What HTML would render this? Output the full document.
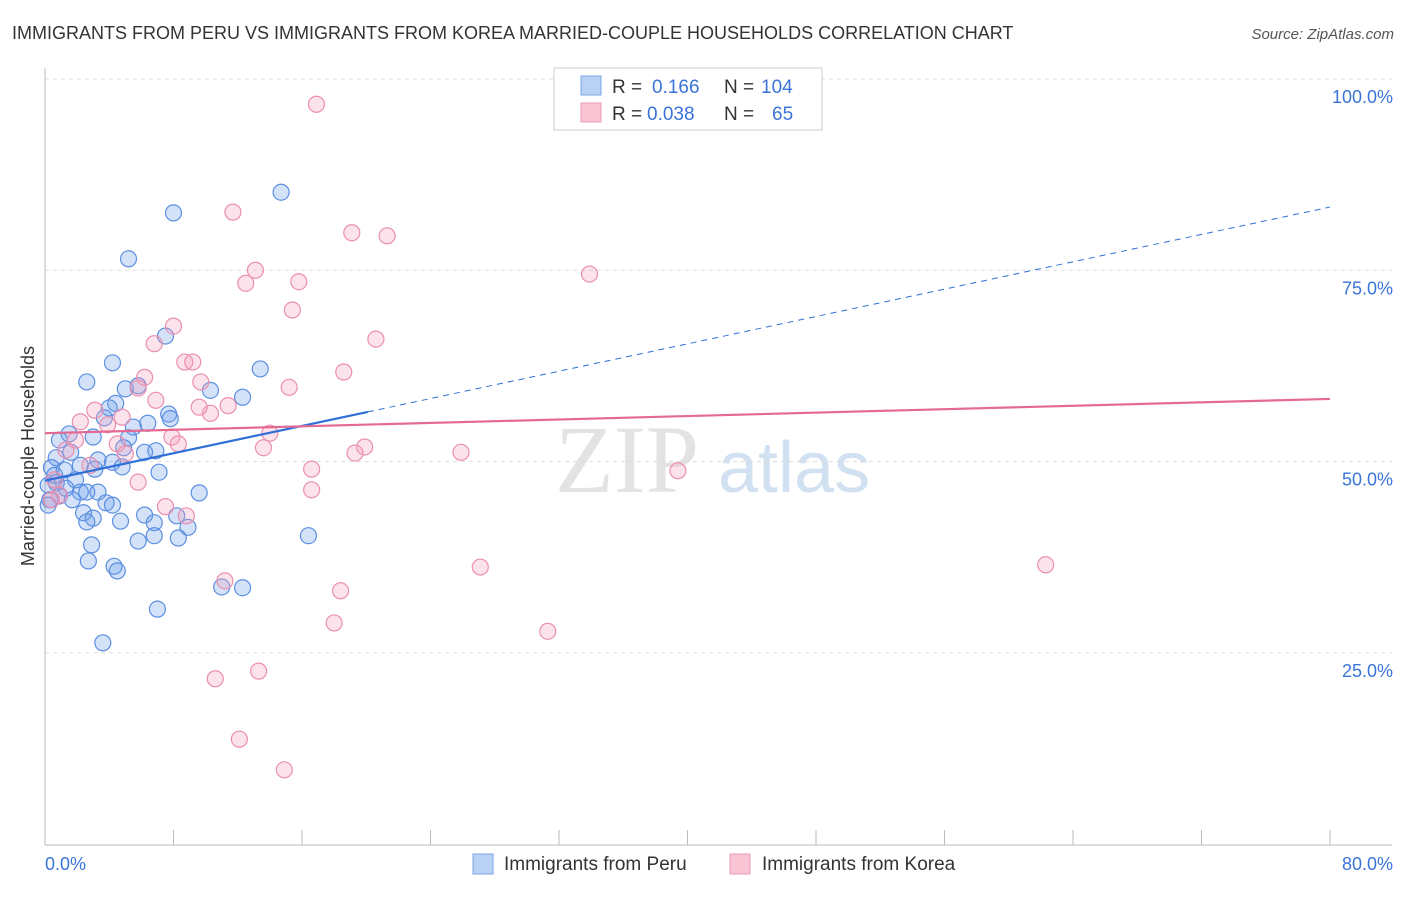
<!DOCTYPE html>
<html><head><meta charset="utf-8"><style>
body{margin:0;background:#fff;font-family:"Liberation Sans",sans-serif;}
</style></head><body>
<svg id="chart" width="1406" height="892" xmlns="http://www.w3.org/2000/svg" font-family="Liberation Sans, sans-serif">
<text x="12" y="39" font-size="18" fill="#333">IMMIGRANTS FROM PERU VS IMMIGRANTS FROM KOREA MARRIED-COUPLE HOUSEHOLDS CORRELATION CHART</text>
<text x="1394" y="39" font-size="15" fill="#555" font-style="italic" text-anchor="end">Source: ZipAtlas.com</text>
<g>
<text x="555" y="492" font-size="96" fill="#ddd" font-family="Liberation Serif, serif" opacity="0.8">ZIP</text>
<text x="718" y="492" font-size="72" fill="#c8daf0" opacity="0.8">atlas</text>
</g>
<g id="grid"></g>
<g id="axes"></g>
<g id="points"></g>
<g id="trends"></g>
<text transform="translate(34,456) rotate(-90)" font-size="18" fill="#333" text-anchor="middle">Married-couple Households</text>
<g>
<rect x="554" y="68" width="268" height="62" fill="#fff" stroke="#ccc"/>
<rect x="581" y="76" width="20" height="19" fill="#b9d1f5" stroke="#7aa5e6"/>
<rect x="581" y="103" width="20" height="19" fill="#f9c5d5" stroke="#ea9ab4"/>
<text x="612" y="93" font-size="19" fill="#333">R = </text><text x="652" y="93" font-size="19" fill="#3a74d8">0.166</text>
<text x="724" y="93" font-size="19" fill="#333">N = </text><text x="761" y="93" font-size="19" fill="#3a74d8">104</text>
<text x="612" y="120" font-size="19" fill="#333">R = </text><text x="647" y="120" font-size="19" fill="#3a74d8">0.038</text>
<text x="724" y="120" font-size="19" fill="#333">N = </text><text x="772" y="120" font-size="19" fill="#3a74d8">65</text>
</g>
<g>
<rect x="473" y="854" width="20" height="20" fill="#b9d1f5" stroke="#7aa5e6"/>
<text x="504" y="870" font-size="19" fill="#333">Immigrants from Peru</text>
<rect x="730" y="854" width="20" height="20" fill="#f9c5d5" stroke="#ea9ab4"/>
<text x="762" y="870" font-size="19" fill="#333">Immigrants from Korea</text>
</g>
</svg>
<script>
const yTicks=[25,50,75,100];
const yTickLabels=["25.0%","50.0%","75.0%","100.0%"];
const xTickLabels=["0.0%","80.0%"];
const peruX=[14.7,8.0,5.2,7.5,4.2,13.4,2.6,10.3,12.3,5.0,5.8,4.4,7.7,7.8,6.4,4.0,3.7,5.5,5.2,1.5,3.0,0.9,4.9,6.2,6.9,1.6,0.7,3.3,4.2,2.2,0.4,1.2,4.8,7.1,3.1,1.9,0.7,0.2,1.3,2.2,2.6,3.3,9.6,0.9,0.3,3.8,4.2,2.4,3.0,6.2,8.2,4.7,6.8,2.6,8.9,16.4,8.3,6.8,5.8,2.9,2.7,4.3,4.5,11.0,12.3,7.0,3.6,0.2,0.6,1.7];
const peruY=[85.2,82.5,76.5,66.4,62.9,62.1,60.4,59.3,58.4,59.5,59.9,57.6,56.2,55.6,55.0,57.0,55.7,54.5,53.1,53.6,53.2,52.8,51.8,51.2,51.4,51.2,50.5,50.2,49.9,49.5,49.2,48.9,49.3,48.6,49.0,47.6,47.2,46.9,46.5,46.0,46.0,46.0,45.9,45.5,45.0,44.6,44.3,43.3,42.6,43.0,42.9,42.2,42.0,42.1,41.4,40.3,40.0,40.3,39.6,39.1,37.0,36.3,35.7,33.6,33.5,30.7,26.3,44.3,48.2,45.0];
const koreaX=[16.9,11.7,19.1,21.3,13.1,33.9,12.5,15.8,15.4,8.0,20.6,6.8,8.7,9.2,18.6,6.2,9.7,15.2,5.8,6.9,11.4,10.3,9.6,4.8,3.1,2.2,3.9,14.0,7.9,4.5,8.3,13.6,19.9,19.3,25.9,5.0,1.3,2.8,16.6,39.4,5.8,16.6,0.6,0.9,7.5,8.8,27.1,62.3,11.2,18.4,18.0,31.3,13.3,10.6,12.1,14.9,0.4,1.9];
const koreaY=[96.7,82.6,79.9,79.5,75.0,74.5,73.3,73.5,69.8,67.7,66.0,65.4,63.0,63.0,61.7,61.0,60.4,59.7,59.6,58.0,57.3,56.3,57.1,55.8,56.7,55.2,54.8,53.7,53.2,52.3,52.3,51.8,51.9,51.1,51.2,51.0,51.5,49.5,49.0,48.8,47.3,46.3,47.6,45.6,44.1,42.9,36.2,36.5,34.4,33.1,28.9,27.8,22.6,21.6,13.7,9.7,45.0,52.8];
const peruTrend=[47.5,0.447];
const koreaTrend=[53.7,0.056];
const NS="http://www.w3.org/2000/svg";
const X=v=>45+v*1285/80;
const Y=v=>844-v*7.65;
function mk(t,a,p){const e=document.createElementNS(NS,t);for(const k in a)e.setAttribute(k,a[k]);p.appendChild(e);return e;}
const grid=document.getElementById('grid'),axes=document.getElementById('axes');
yTicks.forEach((t,i)=>{
 const l=mk('line',{x1:45,x2:1392,y1:Y(t),y2:Y(t),stroke:'#ddd','stroke-dasharray':'4,4'},grid);
 
 
 const tx=mk('text',{x:1393,y:Y(t)+24,'font-size':18,fill:'#3a74d8','text-anchor':'end'},axes);
 tx.textContent=yTickLabels[i];
 
 
});
mk('line',{x1:45,x2:45,y1:68,y2:845,stroke:'#bbb'},axes);
mk('line',{x1:45,x2:1392,y1:845,y2:845,stroke:'#bbb'},axes);
for(let i=0;i<=10;i++){const x=X(i*8);mk('line',{x1:x,x2:x,y1:830,y2:845,stroke:'#bbb'},axes);}
const xl=mk('text',{x:45,y:870,'font-size':18,fill:'#3a74d8'},axes);xl.textContent=xTickLabels[0];


const xr=mk('text',{x:1393,y:870,'font-size':18,fill:'#3a74d8','text-anchor':'end'},axes);xr.textContent=xTickLabels[1];


const pts=document.getElementById('points');
peruX.forEach((x,i)=>{const c=mk('circle',{cx:X(x),cy:Y(peruY[i]),r:8,fill:'rgba(110,160,235,0.3)',stroke:'#5b8fe0','stroke-width':1.2},pts);
 
 });
koreaX.forEach((x,i)=>{const c=mk('circle',{cx:X(x),cy:Y(koreaY[i]),r:8,fill:'rgba(245,160,190,0.3)',stroke:'#eb8fae','stroke-width':1.2},pts);
 
 });
const tr=document.getElementById('trends');
const f=(p,x)=>p[0]+p[1]*x;
const b1=mk('line',{x1:X(0),y1:Y(f(peruTrend,0)),x2:X(20.1),y2:Y(f(peruTrend,20.1)),stroke:'#2f6fd6','stroke-width':2.2},tr);


const b2=mk('line',{x1:X(20.1),y1:Y(f(peruTrend,20.1)),x2:X(80),y2:Y(f(peruTrend,80)),stroke:'#2f6fd6','stroke-width':1,'stroke-dasharray':'6,5'},tr);


const k1=mk('line',{x1:X(0),y1:Y(f(koreaTrend,0)),x2:X(80),y2:Y(f(koreaTrend,80)),stroke:'#e46a94','stroke-width':2.2},tr);


</script>
</body></html>
